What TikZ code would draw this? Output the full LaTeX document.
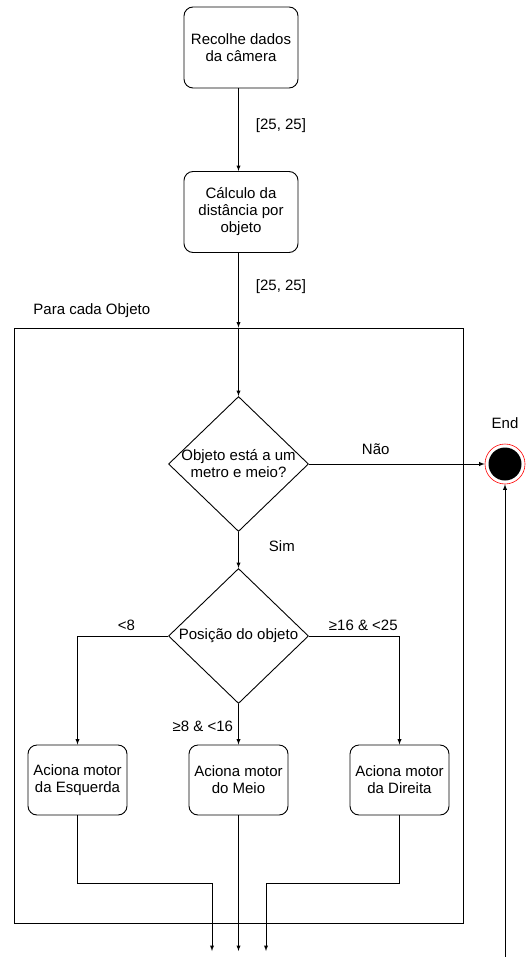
\documentclass[tikz,border=0pt]{standalone}
\usepackage{fontspec}
\setmainfont{Liberation Sans}
\usetikzlibrary{shapes.geometric}
\begin{document}
\begin{tikzpicture}[x=1pt,y=-1pt,line width=0.9pt,
  every node/.style={font=\fontsize{15}{17}\selectfont},
  box/.style={draw,rounded corners=9pt,minimum width=114pt,minimum height=81pt,align=center,inner sep=2pt},
  motor/.style={draw,rounded corners=9pt,minimum width=99pt,minimum height=70pt,align=center,inner sep=2pt},
  decision/.style={draw,diamond,minimum width=140pt,minimum height=135pt,align=center,inner sep=-3pt},
  lbl/.style={inner sep=0pt},
  arr/.style={-latex}]
\useasboundingbox (0,0) rectangle (528,957);
\node[box] (cam) at (241,47.5) {Recolhe dados\\da câmera};
\node[box] (dist) at (241,212) {Cálculo da\\distância por\\objeto};
\node[draw,minimum width=449pt,minimum height=595pt,inner sep=0pt] (loop) at (238.5,625.5) {};
\node[lbl,anchor=west] (looplbl) at (33,311) {Para cada Objeto};
\node[decision] (near) at (238.5,464) {Objeto está a um\\metro e meio?};
\node[decision] (pos) at (238.5,636) {Posição do objeto};
\node[motor] (left) at (77.5,780) {Aciona motor\\da Esquerda};
\node[motor] (mid) at (238.5,780) {Aciona motor\\do Meio};
\node[motor] (right) at (399.5,780) {Aciona motor\\da Direita};
\node[circle,draw=red,fill=white,line width=0.6pt,minimum size=40pt,inner sep=0pt] (end) at (505,464) {};
\fill (end.center) circle[radius=16.5];
\node[lbl] (endlbl) at (505,423) {End};
\coordinate (outL) at (212,951);
\coordinate (outM) at (238.5,951);
\coordinate (outR) at (266,951);
\coordinate (back) at (505,957);
\draw[arr] (cam.south -| 238.5,0) -- node[lbl,right=17pt,pos=0.45] {[25, 25]} (dist.north -| 238.5,0);
\draw[arr] (dist.south -| 238.5,0) -- node[lbl,right=17pt,pos=0.45] {[25, 25]} (loop.north);
\draw[arr] (loop.north) -- (near.north);
\draw[arr] (near.east) -- node[lbl,above=9pt,pos=0.38] {Não} (end.west);
\draw[arr] (near.south) -- node[lbl,right=30pt,pos=0.4] {Sim} (pos.north);
\draw[arr] (pos.west) -| node[lbl,above=5pt,pos=0.23] {<8} (left.north);
\draw[arr] (pos.east) -| node[lbl,above=5pt,pos=0.3] {≥16 \& <25} (right.north);
\draw[arr] (pos.south) -- node[lbl,left=5pt,pos=0.55] {≥8 \& <16} (mid.north);
\draw[arr] (left.south) |- (212,883) -- (outL);
\draw[arr] (mid.south) -- (outM);
\draw[arr] (right.south) |- (266,883) -- (outR);
\draw[arr] (back) -- (end.south);
\end{tikzpicture}
\end{document}
